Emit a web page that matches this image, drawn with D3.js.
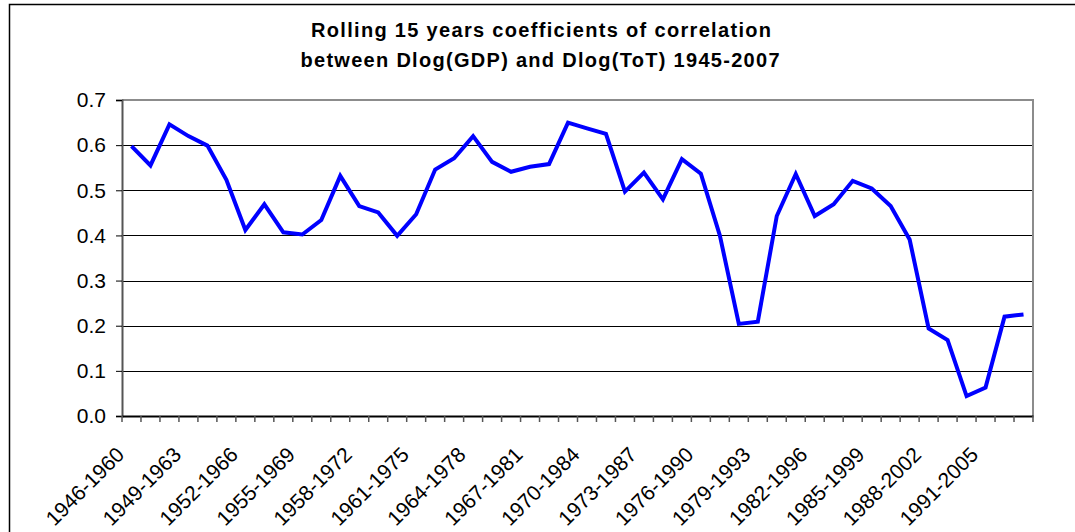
<!DOCTYPE html>
<html>
<head>
<meta charset="utf-8">
<script src="https://cdn.jsdelivr.net/npm/d3@7"></script>
<style>
  html, body { margin: 0; padding: 0; background: #ffffff; }
  svg { display: block; }
</style>
</head>
<body>
<div id="chart"></div>
<script>
// ---- Data ----
const titleLines = [
  "Rolling 15 years coefficients of correlation",
  "between Dlog(GDP) and Dlog(ToT) 1945-2007"
];
const startYears = d3.range(1946, 1994); // 48 rolling windows
const categories = startYears.map(y => y + "-" + (y + 14));
const correlation = [
  0.598, 0.555, 0.646, 0.620, 0.599, 0.523, 0.412, 0.469, 0.407, 0.402,
  0.434, 0.532, 0.465, 0.451, 0.399, 0.447, 0.546, 0.571, 0.620, 0.563,
  0.541, 0.552, 0.558, 0.650, 0.637, 0.625, 0.497, 0.539, 0.480, 0.569,
  0.537, 0.400, 0.204, 0.209, 0.443, 0.536, 0.443, 0.469, 0.521, 0.504,
  0.465, 0.391, 0.194, 0.168, 0.044, 0.063, 0.220, 0.225
];
const yTicks = [0.0, 0.1, 0.2, 0.3, 0.4, 0.5, 0.6, 0.7];
const xLabelEvery = 3;

// ---- Layout ----
const W = 1075, H = 532;
const plot = { left: 122, right: 1033, top: 100, bottom: 416 };
const font = "'Liberation Sans', Arial, Helvetica, sans-serif";

const svg = d3.select("#chart").append("svg")
  .attr("width", W).attr("height", H);

// outer chart border
svg.append("rect")
  .attr("x", 9.5).attr("y", 4.5)
  .attr("width", W + 20).attr("height", H + 20)
  .attr("fill", "#fff").attr("stroke", "#000").attr("stroke-width", 1.5);

const x = d3.scaleBand().domain(categories)
  .range([plot.left, plot.right]).paddingInner(0).paddingOuter(0);
const y = d3.scaleLinear().domain([0, 0.7]).range([plot.bottom, plot.top]);

// Title
const title = svg.append("g").attr("font-family", font)
  .attr("font-weight", "bold").attr("font-size", 20).attr("fill", "#000");
title.append("text").attr("x", 541).attr("y", 37).attr("text-anchor", "middle")
  .attr("textLength", 460).attr("lengthAdjust", "spacing").text(titleLines[0]);
title.append("text").attr("x", 540).attr("y", 67).attr("text-anchor", "middle")
  .attr("textLength", 479).attr("lengthAdjust", "spacing").text(titleLines[1]);

// gridlines
svg.append("g").selectAll("line")
  .data(yTicks.filter(t => t > 0 && t < 0.7))
  .join("line")
  .attr("x1", plot.left).attr("x2", plot.right)
  .attr("y1", d => Math.round(y(d)) + 0.5).attr("y2", d => Math.round(y(d)) + 0.5)
  .attr("stroke", "#000").attr("stroke-width", 1);

// plot top/right border (gray)
svg.append("path")
  .attr("d", `M${plot.left},${plot.top}H${plot.right}V${plot.bottom}`)
  .attr("fill", "none").attr("stroke", "#8c8c8c").attr("stroke-width", 2);

// Y axis
const yAxis = d3.axisLeft(y).tickValues(yTicks).tickFormat(d3.format(".1f"))
  .tickSize(6).tickPadding(10);
const gy = svg.append("g").attr("transform", `translate(${plot.left},0)`).call(yAxis);
gy.select(".domain").attr("stroke", "#555").attr("stroke-width", 2);
gy.selectAll(".tick line").attr("stroke", "#000");
gy.selectAll(".tick text").attr("font-family", font).attr("font-size", 21)
  .attr("fill", "#000");

// X axis
const xAxis = d3.axisBottom(x).tickSize(0).tickFormat(() => "");
const gx = svg.append("g").attr("transform", `translate(0,${plot.bottom})`).call(xAxis);
gx.select(".domain").attr("stroke", "#000").attr("stroke-width", 2);
// tick marks at category boundaries
const bounds = categories.map(c => x(c)).concat([x(categories[categories.length - 1]) + x.bandwidth()]);
gx.append("g").selectAll("line").data(bounds).join("line")
  .attr("x1", d => d).attr("x2", d => d).attr("y1", 0).attr("y2", 6)
  .attr("stroke", "#555").attr("stroke-width", 1.5);
// rotated labels
gx.append("g").selectAll("text")
  .data(categories.filter((c, i) => i % xLabelEvery === 0))
  .join("text")
  .attr("transform", d => `translate(${x(d) + x.bandwidth() / 2 - 6},40) rotate(-45)`)
  .attr("text-anchor", "end")
  .attr("font-family", font).attr("font-size", 21).attr("fill", "#000")
  .text(d => d);

// line
const line = d3.line()
  .x((d, i) => x(categories[i]) + x.bandwidth() / 2)
  .y(d => y(d));
svg.append("path").datum(correlation)
  .attr("d", line)
  .attr("fill", "none").attr("stroke", "#0000ff").attr("stroke-width", 4)
  .attr("stroke-linejoin", "miter");
</script>
</body>
</html>
